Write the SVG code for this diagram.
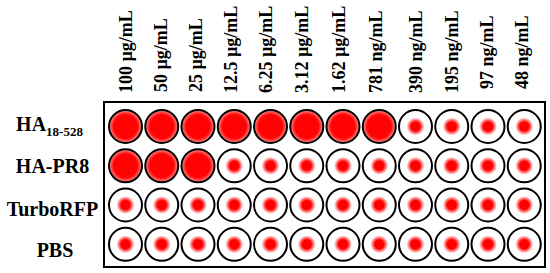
<svg xmlns="http://www.w3.org/2000/svg" xmlns:xlink="http://www.w3.org/1999/xlink" width="550" height="273" viewBox="0 0 550 273">
  <defs>
    <radialGradient id="big" cx="0.5" cy="0.5" r="0.5">
      <stop offset="0" stop-color="#ff0000"/>
      <stop offset="0.72" stop-color="#ff0404"/>
      <stop offset="0.9" stop-color="#ff6060"/>
      <stop offset="1" stop-color="#ffaaaa"/>
    </radialGradient>
    <radialGradient id="dot" cx="0.5" cy="0.5" r="0.5">
      <stop offset="0" stop-color="#ff0000"/>
      <stop offset="0.5" stop-color="#ff0000"/>
      <stop offset="1" stop-color="#ff0000" stop-opacity="0"/>
    </radialGradient>
    <g id="wellBig">
      <circle r="16.5" fill="url(#big)" stroke="#000" stroke-width="2"/>
    </g>
    <g id="wellSmall">
      <circle r="16.5" fill="#fff" stroke="#000" stroke-width="2"/>
      <circle r="9" fill="url(#dot)"/>
    </g>
  </defs>
  <style>
    text { font-family: "Liberation Serif", "Times New Roman", serif; font-weight: bold; fill: #000; }
    .col { font-size: 18px; }
    .row { font-size: 20px; text-anchor: middle; }
    .sub { font-size: 13px; }
  </style>
  <rect width="550" height="273" fill="#fff"/>

  <g id="column-labels">
    <text class="col" transform="translate(132,93) rotate(-90)">100 µg/mL</text>
    <text class="col" transform="translate(167,92) rotate(-90)">50 µg/mL</text>
    <text class="col" transform="translate(202,92) rotate(-90)">25 µg/mL</text>
    <text class="col" transform="translate(237,93) rotate(-90)">12.5 µg/mL</text>
    <text class="col" transform="translate(272,93) rotate(-90)">6.25 µg/mL</text>
    <text class="col" transform="translate(308,93) rotate(-90)">3.12 µg/mL</text>
    <text class="col" transform="translate(345,93) rotate(-90)">1.62 µg/mL</text>
    <text class="col" transform="translate(382,93) rotate(-90)">781 ng/mL</text>
    <text class="col" transform="translate(422,93) rotate(-90)">390 ng/mL</text>
    <text class="col" transform="translate(458,93) rotate(-90)">195 ng/mL</text>
    <text class="col" transform="translate(493,89) rotate(-90)">97 ng/mL</text>
    <text class="col" transform="translate(528,89) rotate(-90)">48 ng/mL</text>
  </g>

  <g id="row-labels">
    <text class="row" x="49.5" y="130.5">HA<tspan class="sub" dy="5">18-528</tspan></text>
    <text class="row" x="52.5" y="173">HA-PR8</text>
    <text class="row" x="52.5" y="216">TurboRFP</text>
    <text class="row" x="55" y="257">PBS</text>
  </g>

  <g id="plate">
    <rect x="104" y="102" width="441" height="165" fill="none" stroke="#000" stroke-width="2"/>
  </g>

  <g id="row-HA18-528">
    <use xlink:href="#wellBig" x="125.5" y="126.5"/>
    <use xlink:href="#wellBig" x="161.75" y="126.5"/>
    <use xlink:href="#wellBig" x="198" y="126.5"/>
    <use xlink:href="#wellBig" x="234.25" y="126.5"/>
    <use xlink:href="#wellBig" x="270.5" y="126.5"/>
    <use xlink:href="#wellBig" x="306.75" y="126.5"/>
    <use xlink:href="#wellBig" x="343" y="126.5"/>
    <use xlink:href="#wellBig" x="379.25" y="126.5"/>
    <use xlink:href="#wellSmall" x="415.5" y="126.5"/>
    <use xlink:href="#wellSmall" x="451.75" y="126.5"/>
    <use xlink:href="#wellSmall" x="488" y="126.5"/>
    <use xlink:href="#wellSmall" x="524.25" y="126.5"/>
  </g>

  <g id="row-HA-PR8">
    <use xlink:href="#wellBig" x="125.5" y="165.8"/>
    <use xlink:href="#wellBig" x="161.75" y="165.8"/>
    <use xlink:href="#wellBig" x="198" y="165.8"/>
    <use xlink:href="#wellSmall" x="234.25" y="165.8"/>
    <use xlink:href="#wellSmall" x="270.5" y="165.8"/>
    <use xlink:href="#wellSmall" x="306.75" y="165.8"/>
    <use xlink:href="#wellSmall" x="343" y="165.8"/>
    <use xlink:href="#wellSmall" x="379.25" y="165.8"/>
    <use xlink:href="#wellSmall" x="415.5" y="165.8"/>
    <use xlink:href="#wellSmall" x="451.75" y="165.8"/>
    <use xlink:href="#wellSmall" x="488" y="165.8"/>
    <use xlink:href="#wellSmall" x="524.25" y="165.8"/>
  </g>

  <g id="row-TurboRFP">
    <use xlink:href="#wellSmall" x="125.5" y="205"/>
    <use xlink:href="#wellSmall" x="161.75" y="205"/>
    <use xlink:href="#wellSmall" x="198" y="205"/>
    <use xlink:href="#wellSmall" x="234.25" y="205"/>
    <use xlink:href="#wellSmall" x="270.5" y="205"/>
    <use xlink:href="#wellSmall" x="306.75" y="205"/>
    <use xlink:href="#wellSmall" x="343" y="205"/>
    <use xlink:href="#wellSmall" x="379.25" y="205"/>
    <use xlink:href="#wellSmall" x="415.5" y="205"/>
    <use xlink:href="#wellSmall" x="451.75" y="205"/>
    <use xlink:href="#wellSmall" x="488" y="205"/>
    <use xlink:href="#wellSmall" x="524.25" y="205"/>
  </g>

  <g id="row-PBS">
    <use xlink:href="#wellSmall" x="125.5" y="244.3"/>
    <use xlink:href="#wellSmall" x="161.75" y="244.3"/>
    <use xlink:href="#wellSmall" x="198" y="244.3"/>
    <use xlink:href="#wellSmall" x="234.25" y="244.3"/>
    <use xlink:href="#wellSmall" x="270.5" y="244.3"/>
    <use xlink:href="#wellSmall" x="306.75" y="244.3"/>
    <use xlink:href="#wellSmall" x="343" y="244.3"/>
    <use xlink:href="#wellSmall" x="379.25" y="244.3"/>
    <use xlink:href="#wellSmall" x="415.5" y="244.3"/>
    <use xlink:href="#wellSmall" x="451.75" y="244.3"/>
    <use xlink:href="#wellSmall" x="488" y="244.3"/>
    <use xlink:href="#wellSmall" x="524.25" y="244.3"/>
  </g>

  <g id="connectors"></g>
</svg>
